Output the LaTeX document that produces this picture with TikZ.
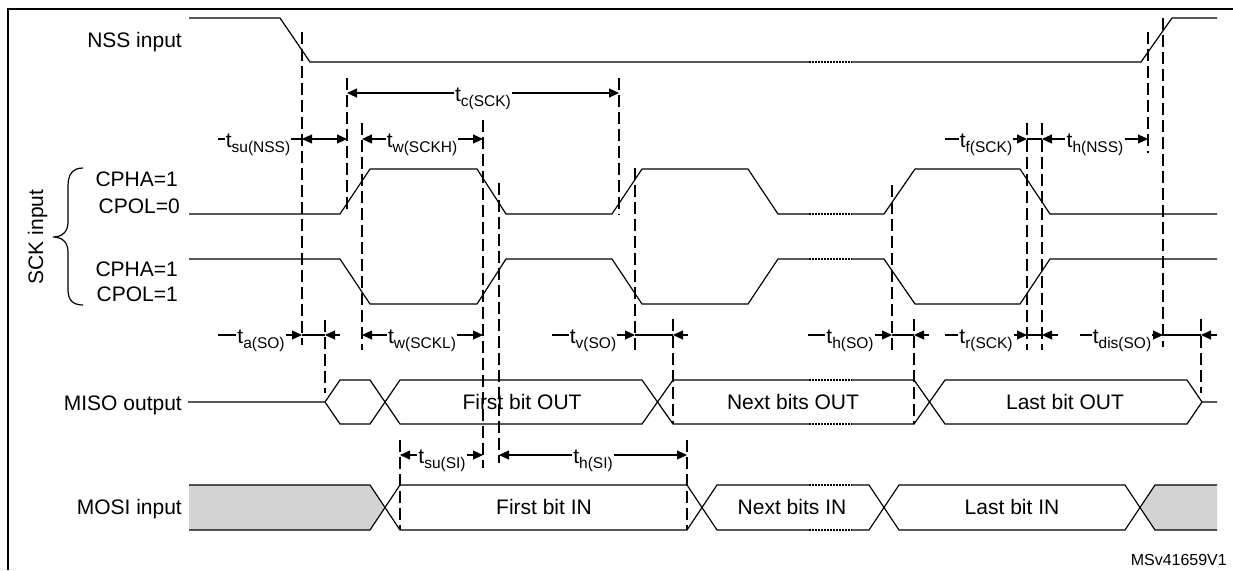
\documentclass[tikz,border=0pt]{standalone}
\usepackage{fontspec}
\setmainfont{Liberation Sans}
\usetikzlibrary{arrows.meta}
\definecolor{fillgray}{RGB}{211,211,211}
\newcommand{\tsub}[1]{t\raisebox{-4.5pt}{\fontsize{15.5}{16}\selectfont #1}}
\begin{document}
\begin{tikzpicture}[x=1pt,y=-1pt,
  >={Triangle[length=10pt,width=9pt]},
  sig/.style={line width=1.2pt},
  dots/.style={line width=1.2pt, dash pattern=on 1.5pt off 1.5pt},
  guide/.style={line width=1.1pt, dash pattern=on 12pt off 5pt},
  dim/.style={line width=1.1pt},
  lbl/.style={font=\fontsize{21}{24}\selectfont, anchor=base, inner xsep=1pt, inner ysep=0pt},
  sname/.style={font=\fontsize{21}{24}\selectfont, anchor=base east, inner sep=0pt},
  txt/.style={font=\fontsize{21}{24}\selectfont, anchor=base, inner sep=0pt},
]
\useasboundingbox (0,0) rectangle (1233,570);
% frame
\draw[line width=2.8pt] (1233,9) -- (8,9) -- (8,570);

% signal names
\node[sname] (nss) at (182,47) {NSS input};
\node[sname] (cpha0) at (178,186) {CPHA=1};
\node[sname] (cpol0) at (180,213) {CPOL=0};
\node[sname] (cpha1) at (178,276) {CPHA=1};
\node[sname] (cpol1) at (178,301) {CPOL=1};
\node[sname] (miso) at (182,410) {MISO output};
\node[sname] (mosi) at (182,514) {MOSI input};
\node[txt, rotate=90] (sck) at (43,237) {SCK input};
\draw[sig] (83,168) .. controls (73,168) and (68,174) .. (68,186) -- (68,222)
  .. controls (68,232) and (62,237) .. (53,237)
  .. controls (62,237) and (68,242) .. (68,252) -- (68,290)
  .. controls (68,300) and (73,305) .. (83,305);

% guide lines
\foreach \x/\ya/\yb in {302/32/345, 347/78/213, 362/123/350, 325/320/393,
  483/120/468, 499/183/463, 619/78/215, 635/168/350, 673/319/424,
  400/440/530, 687/440/530, 892/185/350, 914/319/424, 1027/123/350,
  1042/123/350, 1148/32/153, 1163/18/347, 1201/319/393}
  \draw[guide] (\x,\ya) -- (\x,\yb);

% NSS
\draw[sig] (189,18) -- (280,18) -- (310,62) -- (809,62);
\draw[dots] (809,62) -- (852,62);
\draw[sig] (852,62) -- (1141,62) -- (1172,18) -- (1217,18);

% SCK CPOL=0
\draw[sig] (189,214) -- (340,214) -- (370,169) -- (477,169) -- (506,214) -- (612,214)
  -- (642,169) -- (748,169) -- (778,214) -- (809,214);
\draw[dots] (809,214) -- (852,214);
\draw[sig] (852,214) -- (884,214) -- (915,169) -- (1020,169) -- (1050,214) -- (1217,214);

% SCK CPOL=1
\draw[sig] (189,259) -- (340,259) -- (370,304) -- (477,304) -- (506,259) -- (612,259)
  -- (642,304) -- (748,304) -- (778,259) -- (809,259);
\draw[dots] (809,259) -- (852,259);
\draw[sig] (852,259) -- (884,259) -- (915,304) -- (1020,304) -- (1050,259) -- (1217,259);

% MISO
\draw[sig] (188,402) -- (325,402) -- (340,380) -- (370,380) -- (400,424) -- (642,424) -- (673,380) -- (809,380);
\draw[sig] (325,402) -- (340,424) -- (370,424) -- (400,380) -- (642,380) -- (673,424) -- (809,424);
\draw[dots] (809,380) -- (852,380);
\draw[dots] (809,424) -- (852,424);
\draw[sig] (852,380) -- (914,380) -- (945,424) -- (1187,424) -- (1202,402) -- (1217,402);
\draw[sig] (852,424) -- (914,424) -- (945,380) -- (1187,380) -- (1202,402);
\node[txt] (fbo) at (522,409) {First bit OUT};
\node[txt] (nbo) at (793,409) {Next bits OUT};
\node[txt] (lbo) at (1065,409) {Last bit OUT};

% MOSI
\fill[fillgray] (189,485) -- (370,485) -- (385,507.5) -- (370,530) -- (189,530) -- cycle;
\fill[fillgray] (1217,485) -- (1155,485) -- (1140,507.5) -- (1155,530) -- (1217,530) -- cycle;
\draw[sig] (189,485) -- (370,485) -- (400,530) -- (687,530) -- (717,485) -- (809,485);
\draw[sig] (189,530) -- (370,530) -- (400,485) -- (687,485) -- (717,530) -- (809,530);
\draw[dots] (809,485) -- (852,485);
\draw[dots] (809,530) -- (852,530);
\draw[sig] (852,485) -- (869,485) -- (899,530) -- (1125,530) -- (1155,485) -- (1217,485);
\draw[sig] (852,530) -- (869,530) -- (899,485) -- (1125,485) -- (1155,530) -- (1217,530);
\node[txt] (fbi) at (544,514) {First bit IN};
\node[txt] (nbi) at (792,514) {Next bits IN};
\node[txt] (lbi) at (1012,514) {Last bit IN};

% ---- timing annotations
% row y=93
\node[lbl] (tc) at (483,101.5) {\tsub{c(SCK)}};
\draw[dim,->] (tc.west |- 0,93) -- (347,93);
\draw[dim,->] (tc.east |- 0,93) -- (619,93);

% row y=139
\node[lbl] (tsunss) at (258,147.5) {\tsub{su(NSS)}};
\draw[dim] (218,139) -- (tsunss.west |- 0,139);
\draw[dim] (tsunss.east |- 0,139) -- (302,139);
\draw[dim,<->] (302,139) -- (347,139);
\node[lbl] (twh) at (422,147.5) {\tsub{w(SCKH)}};
\draw[dim,->] (twh.west |- 0,139) -- (362,139);
\draw[dim,->] (twh.east |- 0,139) -- (483,139);
\node[lbl] (tf) at (986,147.5) {\tsub{f(SCK)}};
\draw[dim] (945,139) -- (tf.west |- 0,139);
\draw[dim,->] (tf.east |- 0,139) -- (1027,139);
\draw[dim] (1027,139) -- (1042,139);
\node[lbl] (thnss) at (1095,147.5) {\tsub{h(NSS)}};
\draw[dim,->] (thnss.west |- 0,139) -- (1042,139);
\draw[dim,->] (thnss.east |- 0,139) -- (1148,139);

% row y=335
\node[lbl] (ta) at (261,343.5) {\tsub{a(SO)}};
\draw[dim] (218,335) -- (ta.west |- 0,335);
\draw[dim,->] (ta.east |- 0,335) -- (302,335);
\draw[dim] (302,335) -- (325,335);
\draw[dim,->] (340,335) -- (325,335);
\node[lbl] (twl) at (422,343.5) {\tsub{w(SCKL)}};
\draw[dim,->] (twl.west |- 0,335) -- (362,335);
\draw[dim,->] (twl.east |- 0,335) -- (483,335);
\node[lbl] (tv) at (593,343.5) {\tsub{v(SO)}};
\draw[dim] (552,335) -- (tv.west |- 0,335);
\draw[dim,->] (tv.east |- 0,335) -- (635,335);
\draw[dim] (635,335) -- (673,335);
\draw[dim,->] (688,335) -- (673,335);
\node[lbl] (thso) at (850,343.5) {\tsub{h(SO)}};
\draw[dim] (808,335) -- (thso.west |- 0,335);
\draw[dim,->] (thso.east |- 0,335) -- (892,335);
\draw[dim] (892,335) -- (914,335);
\draw[dim,->] (929,335) -- (914,335);
\node[lbl] (tr) at (986,343.5) {\tsub{r(SCK)}};
\draw[dim] (945,335) -- (tr.west |- 0,335);
\draw[dim,->] (tr.east |- 0,335) -- (1027,335);
\draw[dim] (1027,335) -- (1042,335);
\draw[dim,->] (1058,335) -- (1042,335);
\node[lbl] (tdis) at (1122,343.5) {\tsub{dis(SO)}};
\draw[dim] (1080,335) -- (tdis.west |- 0,335);
\draw[dim,->] (tdis.east |- 0,335) -- (1163,335);
\draw[dim] (1163,335) -- (1201,335);
\draw[dim,->] (1217,335) -- (1201,335);

% row y=455
\node[lbl] (tsusi) at (442,463.5) {\tsub{su(SI)}};
\draw[dim,->] (tsusi.west |- 0,455) -- (400,455);
\draw[dim,->] (tsusi.east |- 0,455) -- (483,455);
\node[lbl] (thsi) at (593,463.5) {\tsub{h(SI)}};
\draw[dim,->] (thsi.west |- 0,455) -- (499,455);
\draw[dim,->] (thsi.east |- 0,455) -- (687,455);

% id
\node[font=\fontsize{16}{18}\selectfont, anchor=base east, inner sep=0pt] (id) at (1227,565) {MSv41659V1};
\end{tikzpicture}
\end{document}
